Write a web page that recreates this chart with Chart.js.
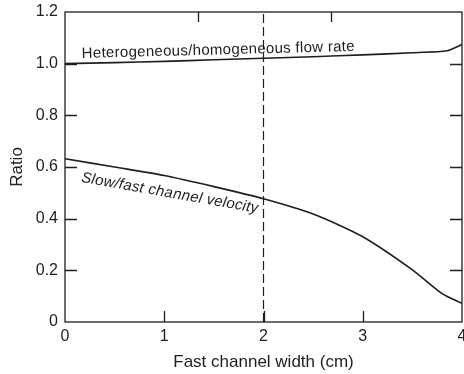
<!DOCTYPE html>
<html>
<head>
<meta charset="utf-8">
<script src="https://cdn.jsdelivr.net/npm/chart.js@4.4.1/dist/chart.umd.min.js"></script>
<style>
  html, body { margin: 0; padding: 0; background: #fff; }
  canvas { display: block; }
</style>
</head>
<body>
<canvas id="c" width="464" height="374"></canvas>
<script>
// data
const flowWidth = [0, 0.5, 1, 1.5, 2, 2.5, 3, 3.5, 3.85, 4];
const flowRatio = [1.000, 1.004, 1.009, 1.015, 1.021, 1.027, 1.034, 1.042, 1.050, 1.074];

const velWidth = [0, 0.5, 1, 1.5, 2, 2.5, 3, 3.5, 3.8, 4];
const velocityRatio = [0.632, 0.600, 0.567, 0.524, 0.477, 0.418, 0.330, 0.202, 0.110, 0.072];

const markerWidth = 2;
const xTicks = [0, 1, 2, 3, 4];
const yTicks = [0, 0.2, 0.4, 0.6, 0.8, 1.0, 1.2];
const topTicks = [1.34, 2.68];

const curveLabels = [
  { text: "Heterogeneous/homogeneous flow rate", x: 0.17, y: 1.022, angle: -1.5, italic: false },
  { text: "Slow/fast channel velocity", x: 0.158, y: 0.543, angle: 10, italic: true }
];

const INK = "#1e1e1e";
const FONT = "'Liberation Sans', Arial, Helvetica, sans-serif";

function pts(xs, ys) {
  return xs.map((x, i) => ({ x: x, y: ys[i] }));
}

// frame, inward ticks and curve labels
const framePlugin = {
  id: "frame",
  afterDatasetsDraw(chart) {
    const { ctx, chartArea: a, scales } = chart;
    const x = scales.x, y = scales.y;
    ctx.save();
    ctx.strokeStyle = INK;
    ctx.lineWidth = 1.3;
    ctx.strokeRect(a.left, a.top, a.right - a.left, a.bottom - a.top);

    ctx.beginPath();
    yTicks.forEach((v) => {
      if (v <= 0 || v >= 1.2) return;
      const py = Math.round(y.getPixelForValue(v)) + 0.5;
      ctx.moveTo(a.left, py); ctx.lineTo(a.left + 12, py);
      ctx.moveTo(a.right, py); ctx.lineTo(a.right - 12, py);
    });
    xTicks.forEach((v) => {
      if (v <= 0 || v >= 4) return;
      const px = Math.round(x.getPixelForValue(v)) + 0.5;
      ctx.moveTo(px, a.bottom); ctx.lineTo(px, a.bottom - 11);
    });
    topTicks.forEach((v) => {
      const px = Math.round(x.getPixelForValue(v)) + 0.5;
      ctx.moveTo(px, a.top); ctx.lineTo(px, a.top + 10);
    });
    ctx.stroke();

    ctx.fillStyle = INK;
    ctx.textBaseline = "alphabetic";
    ctx.textAlign = "left";
    ctx.letterSpacing = "0.3px";
    curveLabels.forEach((l) => {
      ctx.save();
      ctx.translate(x.getPixelForValue(l.x), y.getPixelForValue(l.y));
      ctx.rotate(l.angle * Math.PI / 180);
      ctx.font = (l.italic ? "italic " : "") + "15px " + FONT;
      ctx.fillText(l.text, 0, 0);
      ctx.restore();
    });
    ctx.restore();
  }
};

new Chart(document.getElementById("c"), {
  type: "line",
  data: {
    datasets: [
      {
        label: "Heterogeneous/homogeneous flow rate",
        data: pts(flowWidth, flowRatio),
        borderColor: INK,
        borderWidth: 1.6,
        pointRadius: 0,
        tension: 0.2
      },
      {
        label: "Slow/fast channel velocity",
        data: pts(velWidth, velocityRatio),
        borderColor: INK,
        borderWidth: 1.6,
        pointRadius: 0,
        tension: 0.25
      },
      {
        label: "marker",
        data: [{ x: markerWidth, y: 0 }, { x: markerWidth, y: 1.2 }],
        borderColor: INK,
        borderWidth: 1.2,
        borderDash: [9, 4],
        pointRadius: 0
      }
    ]
  },
  options: {
    responsive: false,
    animation: false,
    layout: { padding: { top: 12, right: 2, left: 0, bottom: 0 } },
    plugins: { legend: { display: false }, tooltip: { enabled: false } },
    scales: {
      x: {
        type: "linear",
        min: 0,
        max: 4,
        afterBuildTicks: (s) => { s.ticks = xTicks.map((v) => ({ value: v })); },
        afterFit: (s) => { s.height = 52; s.paddingLeft = 0; s.paddingRight = 0; },
        grid: { display: false, drawTicks: false },
        border: { display: false },
        ticks: {
          color: INK,
          padding: 5,
          maxRotation: 0,
          font: { family: FONT, size: 16 },
          callback: (v) => String(v)
        },
        title: {
          display: true,
          text: "Fast channel width (cm)",
          color: INK,
          font: { family: FONT, size: 17 },
          padding: { top: 0, bottom: 1 }
        }
      },
      y: {
        type: "linear",
        min: 0,
        max: 1.2,
        afterBuildTicks: (s) => { s.ticks = yTicks.map((v) => ({ value: v })); },
        afterFit: (s) => { s.width = 65; s.paddingTop = 0; s.paddingBottom = 0; },
        grid: { display: false, drawTicks: false },
        border: { display: false },
        ticks: {
          color: INK,
          padding: 7,
          font: { family: FONT, size: 16 },
          callback: (v) => (v === 0 ? "0" : v.toFixed(1))
        },
        title: {
          display: true,
          text: "Ratio",
          color: INK,
          font: { family: FONT, size: 17 },
          padding: { top: 7, bottom: 0 }
        }
      }
    }
  },
  plugins: [framePlugin]
});
</script>
</body>
</html>
